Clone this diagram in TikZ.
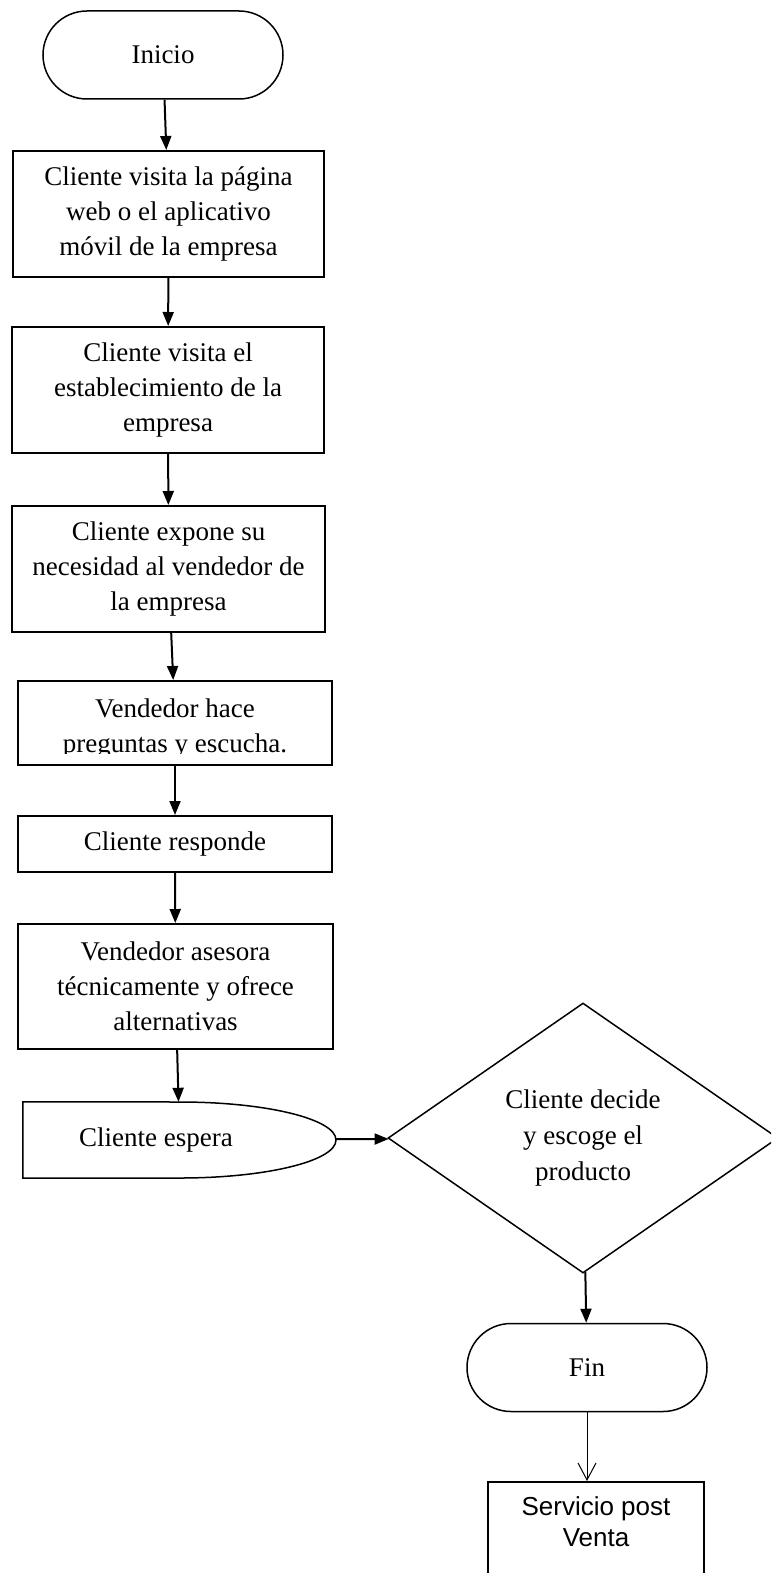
\documentclass[tikz,border=0pt]{standalone}
\usepackage{fontspec}
\setmainfont{Liberation Serif}
\newfontfamily\arialfont{Liberation Sans}
\usepackage{tikz}
\usetikzlibrary{arrows.meta}
\usetikzlibrary{shapes.misc}
\usetikzlibrary{shapes.geometric}

\begin{document}
\begin{tikzpicture}[x=1pt,y=-1pt,
  caja/.style={draw, line width=2pt, inner sep=0pt},
  texto/.style={align=center, inner sep=0pt, font=\fontsize{27}{35}\selectfont},
  terminal/.style={draw, rounded rectangle, line width=1.5pt, minimum width=240pt, minimum height=88pt, texto},
  flecha/.style={line width=2pt, -{Triangle[length=14pt,width=11pt]}},
  flechafina/.style={line width=1pt, -{Straight Barb[length=17pt,width=18pt]}}]
\clip (0,0) rectangle (771,1573);

\node [terminal] (inicio) at (163,55) {Inicio};
\node [caja, texto, minimum width=311pt, minimum height=126pt] (visita) at (168.5,214)
  {Cliente visita la página\\web o el aplicativo\\móvil de la empresa};
\node [caja, texto, minimum width=312pt, minimum height=126pt] (establ) at (168,390)
  {Cliente visita el\\establecimiento de la\\empresa};
\node [caja, texto, minimum width=313pt, minimum height=126pt] (expone) at (168.5,569)
  {Cliente expone su\\necesidad al vendedor de\\la empresa};

% caja con el texto cortado abajo
\node [caja, minimum width=314pt, minimum height=84pt] (preguntas) at (175,723) {};
\begin{scope}
\clip (20,683) rectangle (330,753.5);
\node [texto, anchor=base] (preguntas1) at (175,717) {Vendedor hace};
\node [texto, anchor=base] (preguntas2) at (175,752) {preguntas y escucha.};
\end{scope}

\node [caja, texto, minimum width=314pt, minimum height=56pt] (responde) at (175,844) {Cliente responde};
\node [caja, texto, minimum width=315pt, minimum height=125pt] (asesora) at (175.5,986.5)
  {Vendedor asesora\\técnicamente y ofrece\\alternativas};

% espera
\node [minimum width=313pt, minimum height=76pt, inner sep=0pt] (espera) at (179.5,1140) {};
\draw [line width=1.5pt] (espera.north west) -- (180,1102)
  arc [start angle=90, end angle=-90, x radius=156pt, y radius=38pt] -- (espera.south west) -- cycle;
\node [texto] (esperatxt) at (156,1140) {Cliente espera};

\node [draw, diamond, aspect=1.44, line width=1.5pt, minimum width=390pt, minimum height=270pt,
  inner sep=0pt, align=center, font=\fontsize{27}{36}\selectfont] (decide) at (583,1138)
  {Cliente decide\\y escoge el\\producto};

\node [terminal] (fin) at (587,1367.5) {Fin};

\node [caja, minimum width=216pt, minimum height=108pt] (servicio) at (596,1536) {};
\node [align=center, inner sep=0pt, font=\arialfont\fontsize{26}{31}\selectfont] (serviciotxt) at (596,1522)
  {Servicio post\\Venta};

\draw [flecha] (inicio) -- (visita);
\draw [flecha] (visita) -- (establ);
\draw [flecha] (establ) -- (expone);
\draw [flecha] (expone) -- (preguntas);
\draw [flecha] (preguntas) -- (responde);
\draw [flecha] (responde) -- (asesora);
\draw [flecha] (asesora) -- (espera);
\draw [flecha] (espera) -- (decide);
\draw [flecha] (decide) -- (fin);
\draw [flechafina] (fin.south) -- (fin.south |- servicio.north);
\end{tikzpicture}
\end{document}
